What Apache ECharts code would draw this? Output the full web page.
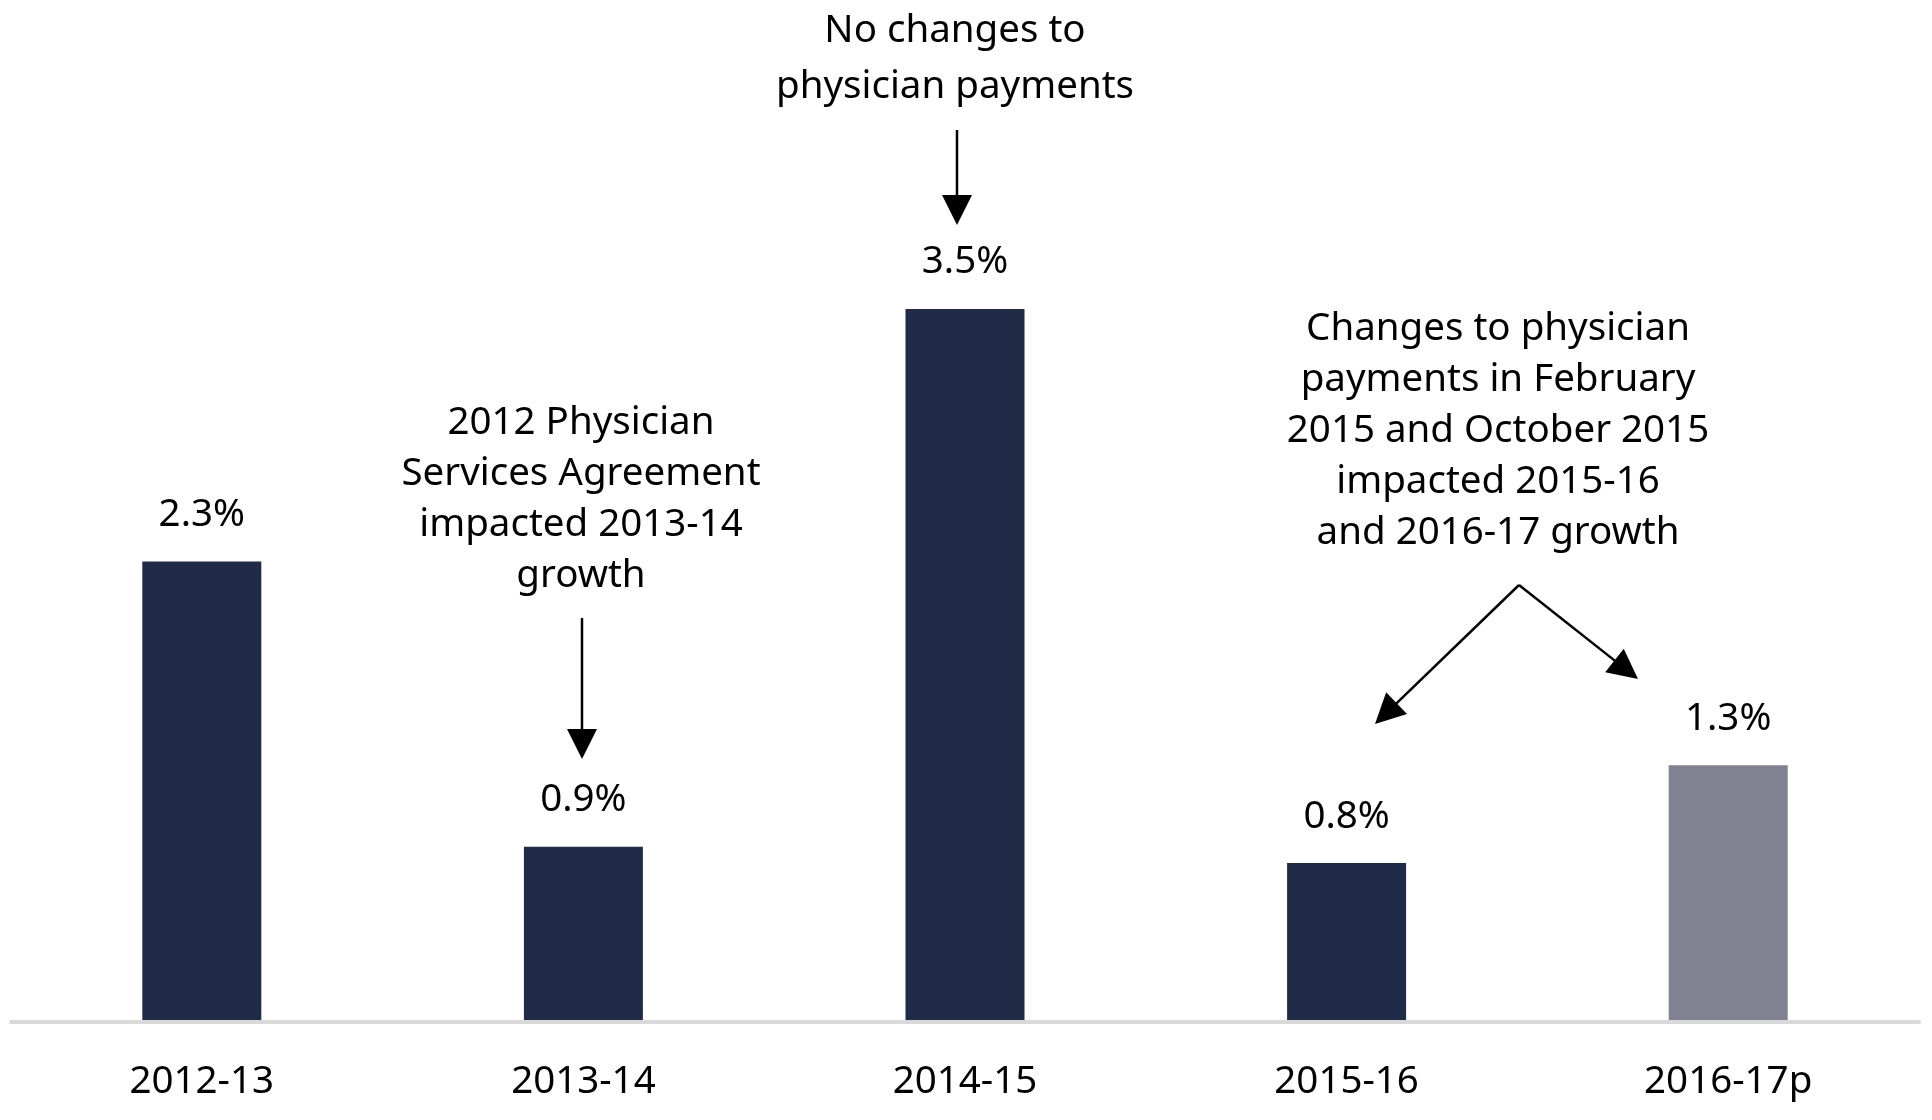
<!DOCTYPE html>
<html>
<head>
<meta charset="utf-8">
<script src="https://cdn.jsdelivr.net/npm/echarts@6/dist/echarts.min.js"></script>
<style>
    html, body { margin: 0; padding: 0; background: #fff; }
    #main { width: 1932px; height: 1120px; }
</style>
</head>
<body>
<div id="main"></div>
<script type="text/javascript">
    // data
    var years = ['2012-13', '2013-14', '2014-15', '2015-16', '2016-17p'];
    var growth = [2.26, 0.86, 3.5, 0.78, 1.26];
    var growthLabels = ['2.3%', '0.9%', '3.5%', '0.8%', '1.3%'];
    var projected = [false, false, false, false, true];

    var FONT = '"Noto Sans", "Open Sans", sans-serif';
    var FS = 38.5;

    // arrow = line + triangle head
    function arrow(x1, y1, x2, y2) {
        var dx = x2 - x1, dy = y2 - y1;
        var len = Math.sqrt(dx * dx + dy * dy);
        var ux = dx / len, uy = dy / len;
        var hl = 30, hw = 15;
        var bx = x2 - ux * hl, by = y2 - uy * hl;
        return [
            {
                type: 'line',
                shape: { x1: x1, y1: y1, x2: bx + ux * 2, y2: by + uy * 2 },
                style: { stroke: '#000', lineWidth: 2.5 }
            },
            {
                type: 'polygon',
                shape: { points: [[x2, y2], [bx - uy * hw, by + ux * hw], [bx + uy * hw, by - ux * hw]] },
                style: { fill: '#000' }
            }
        ];
    }

    function note(text, x, y, lh) {
        return {
            type: 'text',
            x: x,
            y: y,
            style: {
                text: text,
                fill: '#000',
                font: FS + 'px ' + FONT,
                lineHeight: lh,
                align: 'center',
                verticalAlign: 'top'
            }
        };
    }

    var graphics = [
        note('No changes to\nphysician payments', 955, 3, 56),
        note('2012 Physician\nServices Agreement\nimpacted 2013-14\ngrowth', 581, 398, 51),
        note('Changes to physician\npayments in February\n2015 and October 2015\nimpacted 2015-16\nand 2016-17 growth', 1498, 304, 51)
    ]
        .concat(arrow(957, 130, 957, 225))
        .concat(arrow(582, 618, 582, 759))
        .concat(arrow(1519, 585, 1375, 724))
        .concat(arrow(1519, 585, 1638, 679));

    var myChart = echarts.init(document.getElementById('main'));

    var option = {
        animation: false,
        grid: {
            left: 11,
            right: 13,
            top: 207,
            bottom: 98
        },
        xAxis: {
            type: 'category',
            data: years,
            z: 5,
            axisLine: { lineStyle: { color: '#d9d9d9', width: 4 } },
            axisTick: { show: false },
            axisLabel: {
                margin: 41,
                color: '#000',
                fontSize: FS,
                fontFamily: FONT
            }
        },
        yAxis: {
            type: 'value',
            min: 0,
            max: 4,
            show: false,
            splitLine: { show: false }
        },
        series: [
            {
                type: 'bar',
                barWidth: 119,
                data: growth.map(function (v, i) {
                    return {
                        value: v,
                        itemStyle: { color: projected[i] ? '#828191' : '#1f2b47' }
                    };
                }),
                label: {
                    show: true,
                    position: 'top',
                    distance: 27,
                    color: '#000',
                    fontSize: FS,
                    fontFamily: FONT,
                    formatter: function (p) { return growthLabels[p.dataIndex]; }
                }
            }
        ],
        graphic: graphics
    };

    myChart.setOption(option);
</script>
</body>
</html>
